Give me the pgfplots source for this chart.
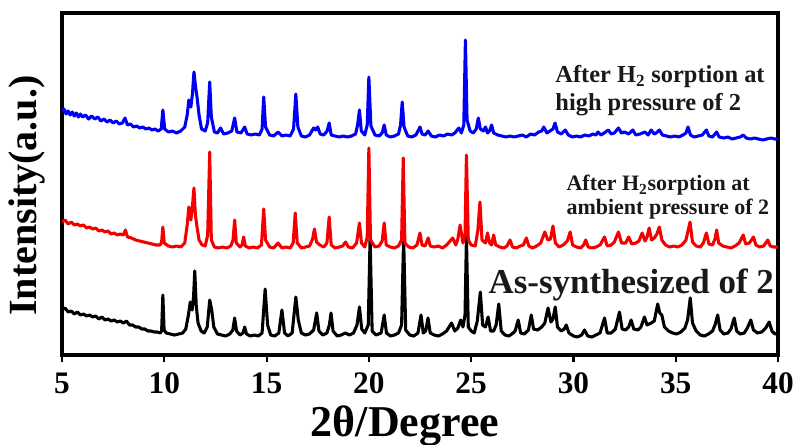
\documentclass[border=0pt]{standalone}
\usepackage{pgfplots}
\pgfplotsset{compat=1.18}
\usepackage{fontspec}
\setmainfont{Liberation Serif}

\definecolor{xrdblue}{RGB}{0,0,245}
\definecolor{xrdred}{RGB}{245,0,0}
\definecolor{xrdblack}{RGB}{0,0,0}
\definecolor{notetext}{RGB}{25,25,25}

% Powder patterns (2theta in degrees, intensity in arbitrary stacked units)
\pgfplotstableread{
x y
5.00 45
5.15 47
5.30 43
5.45 44
5.60 41
5.75 43
5.90 40
6.05 41
6.20 39
6.35 40
6.50 38
6.65 39
6.80 36
6.95 38
7.10 35
7.25 36
7.40 34
7.55 35
7.70 33
7.85 34
8.00 32
8.15 34
8.30 30
8.45 30
8.60 28
8.75 28
8.90 26
9.05 26
9.20 24
9.35 24
9.50 23
9.65 23
9.80 22
9.87 24
9.93 60
9.99 25
10.10 22
10.30 21
10.50 20
10.70 21
10.90 22
11.05 26
11.18 40
11.27 53
11.36 45
11.43 58
11.49 84
11.56 50
11.65 32
11.80 24
11.95 22
12.10 28
12.22 55
12.32 45
12.42 28
12.60 21
12.80 20
13.00 19
13.20 21
13.35 25
13.44 37
13.53 24
13.70 20
13.85 22
13.93 28
14.02 21
14.20 19
14.40 20
14.60 19
14.78 22
14.93 66
15.05 30
15.20 20
15.40 19
15.60 22
15.75 45
15.88 22
16.05 19
16.25 22
16.43 58
16.55 35
16.70 22
16.90 20
17.10 21
17.30 25
17.45 42
17.56 24
17.75 20
17.95 22
18.07 30
18.15 42
18.25 24
18.45 19
18.65 20
18.85 22
19.05 20
19.25 22
19.42 30
19.54 48
19.65 26
19.80 22
19.97 30
20.06 118
20.16 24
20.35 20
20.60 22
20.75 40
20.86 22
21.05 19
21.25 20
21.45 22
21.60 30
21.70 118
21.80 25
22.00 20
22.20 19
22.40 22
22.55 40
22.66 22
22.78 24
22.89 37
23.00 22
23.20 20
23.40 19
23.60 21
23.80 24
24.04 32
24.20 24
24.35 27
24.49 35
24.60 28
24.70 40
24.77 118
24.86 28
25.00 24
25.15 22
25.30 34
25.45 63
25.56 30
25.70 28
25.83 38
25.95 24
26.10 24
26.22 30
26.35 51
26.47 24
26.65 20
26.85 19
27.05 22
27.15 24
27.30 35
27.42 22
27.60 21
27.80 25
27.94 40
28.05 26
28.25 25
28.45 28
28.60 32
28.76 47
28.90 33
29.00 36
29.11 48
29.22 28
29.40 24
29.55 26
29.65 30
29.78 22
30.00 19
30.20 18
30.40 20
30.54 25
30.70 19
30.90 18
31.10 20
31.30 22
31.52 37
31.65 22
31.85 22
32.05 26
32.25 43
32.38 26
32.55 25
32.70 28
32.82 35
32.95 26
33.15 25
33.30 28
33.47 38
33.60 30
33.80 32
33.95 34
34.12 51
34.22 42
34.32 40
34.45 28
34.65 24
34.85 22
35.05 21
35.25 23
35.45 27
35.58 35
35.71 57
35.82 32
36.00 24
36.20 20
36.40 19
36.60 21
36.80 24
36.92 30
37.05 40
37.17 25
37.35 21
37.55 22
37.70 26
37.86 37
37.98 24
38.15 21
38.35 22
38.50 27
38.67 35
38.80 25
39.00 22
39.20 23
39.40 27
39.57 33
39.70 24
39.85 21
40.00 22
}\assynth

\pgfplotstableread{
x y
5.00 133
5.15 135
5.30 131
5.45 133
5.60 130
5.75 131
5.90 129
6.05 130
6.20 127
6.35 128
6.50 126
6.65 127
6.80 124
6.95 125
7.10 123
7.25 124
7.40 121
7.55 122
7.70 120
7.85 121
8.00 120
8.10 125
8.20 118
8.40 117
8.60 115
8.80 114
9.00 113
9.20 112
9.40 111
9.60 110
9.80 110
9.87 113
9.93 128
10.00 112
10.20 109
10.40 108
10.60 109
10.80 108
11.00 112
11.12 130
11.20 148
11.30 135
11.38 150
11.45 167
11.52 140
11.60 128
11.70 115
11.85 110
12.00 109
12.12 120
12.22 203
12.30 115
12.45 108
12.65 107
12.85 108
13.05 107
13.25 109
13.36 115
13.44 135
13.52 112
13.70 108
13.80 110
13.88 118
13.96 109
14.15 107
14.35 108
14.55 107
14.75 110
14.86 146
14.95 115
15.15 108
15.35 107
15.56 112
15.75 107
15.95 108
16.15 107
16.30 112
16.40 142
16.50 112
16.70 107
16.90 108
17.10 109
17.25 116
17.34 126
17.44 113
17.60 110
17.80 108
17.95 112
18.06 138
18.16 110
18.35 107
18.55 108
18.72 109
18.86 113
19.00 108
19.20 107
19.40 112
19.54 132
19.64 112
19.80 108
19.92 118
20.00 207
20.08 115
20.30 108
20.50 109
20.65 114
20.75 132
20.85 110
21.05 108
21.25 107
21.45 109
21.60 115
21.68 197
21.76 112
21.95 108
22.15 107
22.35 110
22.50 122
22.60 110
22.75 109
22.90 117
23.00 109
23.20 108
23.40 109
23.60 107
23.80 110
24.10 117
24.25 110
24.35 116
24.46 130
24.60 112
24.70 120
24.77 200
24.86 115
25.00 110
25.20 109
25.33 125
25.43 153
25.53 115
25.70 112
25.80 122
25.90 112
26.00 110
26.10 120
26.20 110
26.40 108
26.60 107
26.75 109
26.90 115
27.02 108
27.20 107
27.40 109
27.55 110
27.70 117
27.82 109
28.00 107
28.20 109
28.40 112
28.60 123
28.75 115
28.88 116
29.00 129
29.12 112
29.30 108
29.50 110
29.70 114
29.84 123
29.96 110
30.15 108
30.35 107
30.50 110
30.60 115
30.72 108
30.90 107
31.10 108
31.30 110
31.52 118
31.65 109
31.85 110
32.00 113
32.20 123
32.35 112
32.55 112
32.70 118
32.85 111
33.05 112
33.20 114
33.36 122
33.50 114
33.60 118
33.70 127
33.82 115
33.95 117
34.08 121
34.20 128
34.32 115
34.50 110
34.70 108
34.90 109
35.10 108
35.30 110
35.50 115
35.70 133
35.82 113
36.00 109
36.20 108
36.35 112
36.50 122
36.62 111
36.80 110
36.92 116
37.00 125
37.10 112
37.30 109
37.50 108
37.70 107
37.90 109
38.10 112
38.30 120
38.42 111
38.60 112
38.80 118
38.92 110
39.10 108
39.30 109
39.50 115
39.62 109
39.80 108
40.00 108
}\ambient

\pgfplotstableread{
x y
5.00 243
5.10 246
5.20 241
5.30 244
5.40 240
5.50 243
5.60 239
5.70 242
5.80 238
5.90 241
6.00 238
6.15 240
6.30 236
6.45 239
6.60 236
6.75 238
6.90 234
7.05 236
7.20 233
7.35 235
7.50 232
7.65 234
7.80 231
7.95 232
8.08 237
8.20 230
8.35 231
8.50 228
8.65 229
8.80 227
8.95 228
9.10 226
9.25 227
9.40 225
9.55 226
9.70 224
9.85 226
9.93 245
10.02 226
10.20 223
10.40 224
10.60 222
10.80 224
11.00 228
11.12 240
11.20 255
11.30 248
11.38 262
11.45 283
11.53 268
11.60 258
11.70 240
11.82 226
12.00 224
12.12 232
12.22 273
12.30 238
12.45 223
12.60 222
12.75 227
12.90 221
13.10 222
13.30 224
13.44 237
13.55 223
13.75 222
13.93 228
14.05 221
14.25 220
14.45 221
14.65 220
14.78 226
14.86 258
14.95 228
15.15 220
15.35 219
15.56 223
15.75 219
15.95 220
16.15 219
16.32 226
16.43 261
16.53 228
16.70 219
16.90 218
17.10 220
17.30 227
17.40 225
17.50 228
17.62 221
17.80 220
17.96 224
18.06 232
18.16 220
18.35 219
18.55 218
18.75 219
18.95 218
19.15 219
19.35 221
19.45 230
19.54 245
19.63 224
19.80 220
19.92 230
20.00 278
20.10 229
20.30 220
20.50 219
20.65 222
20.75 230
20.85 220
21.05 218
21.25 219
21.45 221
21.55 230
21.63 253
21.72 228
21.90 219
22.10 218
22.30 220
22.50 228
22.60 221
22.75 220
22.90 224
23.05 219
23.25 218
23.45 220
23.65 219
23.85 221
24.05 220
24.20 222
24.40 227
24.52 222
24.64 230
24.72 315
24.80 235
24.95 224
25.10 222
25.25 226
25.35 237
25.45 226
25.60 224
25.70 228
25.80 222
25.90 224
26.00 230
26.10 222
26.30 220
26.50 219
26.70 218
26.90 219
27.10 218
27.30 219
27.50 220
27.70 218
27.90 221
28.10 220
28.30 223
28.45 224
28.55 228
28.70 222
28.85 224
29.00 226
29.10 232
29.22 223
29.40 221
29.60 225
29.75 220
29.95 218
30.15 219
30.35 218
30.55 220
30.75 219
30.95 221
31.10 220
31.20 223
31.35 220
31.50 222
31.70 225
31.85 221
32.00 222
32.20 227
32.35 222
32.50 223
32.70 221
32.90 225
33.05 220
33.25 221
33.50 223
33.65 220
33.80 225
33.95 221
34.05 222
34.20 225
34.35 220
34.55 219
34.75 218
34.95 219
35.15 218
35.35 220
35.50 222
35.60 228
35.72 220
35.90 218
36.10 219
36.30 220
36.50 225
36.62 219
36.80 218
37.00 223
37.12 218
37.35 217
37.55 218
37.75 216
37.95 217
38.15 218
38.30 220
38.45 217
38.65 216
38.85 217
39.05 216
39.25 215
39.45 216
39.65 217
39.85 216
40.00 216
}\highpress

\begin{document}
\begin{tikzpicture}
\begin{axis}[
  scale only axis,
  width=537pt, height=256.5pt,
  xmin=5, xmax=40, ymin=0, ymax=342,
  xtick={5,10,...,40},
  ytick=\empty,
  xtick pos=bottom,
  tick align=outside,
  major tick length=5pt,
  tick style={line width=1.6pt, black},
  axis line style={line width=2.4pt, black},
  /pgf/number format/assume math mode=true,
  xticklabel style={font=\bfseries\fontsize{23.5}{23.5}\selectfont, yshift=-5pt},
  xlabel={2θ/Degree},
  xlabel style={font=\bfseries\fontsize{33}{33}\selectfont,
    at={(axis description cs:0.479,-0.237)}, anchor=base},
  ylabel={Intensity(a.u.)},
  ylabel style={font=\bfseries\fontsize{30}{30}\selectfont,
    at={(axis description cs:-0.0353,0.466)}, anchor=base},
  every axis plot/.append style={line width=2.3pt, line join=round, no markers},
]
\addplot[xrdblack] table[x=x,y=y] {\assynth};
\addplot[xrdred]   table[x=x,y=y] {\ambient};
\addplot[xrdblue]  table[x=x,y=y] {\highpress};

\node[anchor=base west, inner sep=0pt, text=notetext,
      font=\bfseries\fontsize{18.3}{18.3}\selectfont]
  at (axis cs:29.11,272.3) {After H\textsubscript{2} sorption at};
\node[anchor=base west, inner sep=0pt, text=notetext,
      font=\bfseries\fontsize{18.3}{18.3}\selectfont]
  at (axis cs:29.11,244.3) {high pressure of 2};
\node[anchor=base west, inner sep=0pt, text=notetext,
      font=\bfseries\fontsize{16.5}{16.5}\selectfont]
  at (axis cs:29.65,164.3) {After H\textsubscript{2}sorption at};
\node[anchor=base west, inner sep=0pt, text=notetext,
      font=\bfseries\fontsize{16.5}{16.5}\selectfont]
  at (axis cs:29.65,141) {ambient pressure of 2};
\node[anchor=base west, inner sep=0pt, text=notetext,
      font=\bfseries\fontsize{26.2}{26.2}\selectfont]
  at (axis cs:25.84,61.7) {As-synthesized of 2};
\end{axis}
\pgfresetboundingbox
\path[use as bounding box]
  ([xshift=-46.5pt,yshift=-66.75pt]current axis.south west)
  rectangle ([xshift=11.25pt,yshift=9.75pt]current axis.north east);
\end{tikzpicture}
\end{document}
